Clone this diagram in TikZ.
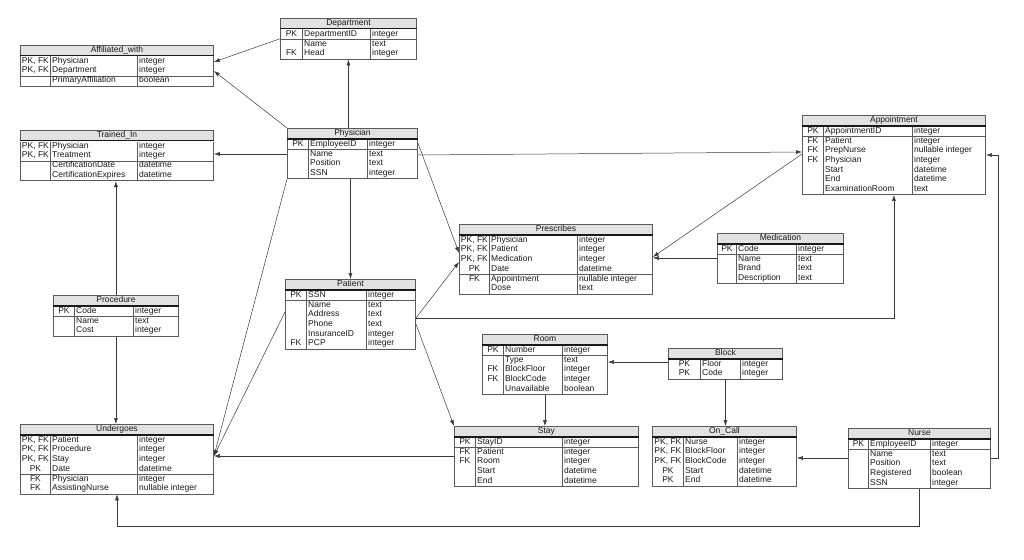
\documentclass[tikz,border=0pt]{standalone}
\usepackage{fontspec}
\setmainfont{Liberation Sans}
\usepackage[table]{xcolor}
\usepackage{array}
\usetikzlibrary{arrows, arrows.meta}
\usetikzlibrary{calc}

\definecolor{erline}{HTML}{5A5A5A}
\definecolor{erhead}{HTML}{E2E2E2}
\definecolor{erwire}{HTML}{3A3A3A}
\setlength{\tabcolsep}{1.5pt}
\setlength{\arrayrulewidth}{0.5pt}
\arrayrulecolor{erline}
\newcolumntype{K}[1]{>{\hbox to #1\bgroup\hss}c<{\hss\egroup}}
\newcolumntype{L}[1]{>{\hbox to #1\bgroup}l<{\hss\egroup}}
\newcommand{\erhdr}[1]{\hline\multicolumn{3}{|c|}{\cellcolor{erhead}#1}\\\noalign{\hrule height 1.2pt}}

\begin{document}
\begin{tikzpicture}[x=1pt, y=-1pt,
    ertable/.style={inner sep=0pt, anchor=north west, font=\fontsize{8.5}{9.6}\selectfont, text=black!90},
    fk/.style={draw=erwire, line width=0.5pt, -{Latex[length=6pt,width=4pt]}}]
    \path[use as bounding box, fill=white] (0,0) rectangle (1024,559);

    \node[ertable] (affiliated) at (20,45) {\begin{tabular}{|K{26.5pt}|L{83.5pt}|L{72.5pt}|}
        \erhdr{Affiliated\_with}
        PK, FK & Physician & integer \\
        PK, FK & Department & integer \\ \hline
        & PrimaryAffiliation & boolean \\ \hline
    \end{tabular}};
    \node[ertable] (department) at (280,18) {\begin{tabular}{|K{18.5pt}|L{64.5pt}|L{42.5pt}|}
        \erhdr{Department}
        PK & DepartmentID & integer \\ \hline
        & Name & text \\
        FK & Head & integer \\ \hline
    \end{tabular}};
    \node[ertable] (trained) at (20,130) {\begin{tabular}{|K{26.5pt}|L{83.5pt}|L{72.5pt}|}
        \erhdr{Trained\_In}
        PK, FK & Physician & integer \\
        PK, FK & Treatment & integer \\ \hline
        & CertificationDate & datetime \\
        & CertificationExpires & datetime \\ \hline
    \end{tabular}};
    \node[ertable] (physician) at (287,128) {\begin{tabular}{|K{17.5pt}|L{55.5pt}|L{46.5pt}|}
        \erhdr{Physician}
        PK & EmployeeID & integer \\ \hline
        & Name & text \\
        & Position & text \\
        & SSN & integer \\ \hline
    \end{tabular}};
    \node[ertable] (appointment) at (802,115) {\begin{tabular}{|K{17.5pt}|L{85.5pt}|L{69.5pt}|}
        \erhdr{Appointment}
        PK & AppointmentID & integer \\ \hline
        FK & Patient & integer \\
        FK & PrepNurse & nullable integer \\
        FK & Physician & integer \\
        & Start & datetime \\
        & End & datetime \\
        & ExaminationRoom & text \\ \hline
    \end{tabular}};
    \node[ertable] (prescribes) at (459,224) {\begin{tabular}{|K{26.5pt}|L{84.5pt}|L{71.5pt}|}
        \erhdr{Prescribes}
        PK, FK & Physician & integer \\
        PK, FK & Patient & integer \\
        PK, FK & Medication & integer \\
        PK & Date & datetime \\ \hline
        FK & Appointment & nullable integer \\
        & Dose & text \\ \hline
    \end{tabular}};
    \node[ertable] (medication) at (717,233) {\begin{tabular}{|K{15.5pt}|L{56.5pt}|L{43.5pt}|}
        \erhdr{Medication}
        PK & Code & integer \\ \hline
        & Name & text \\
        & Brand & text \\
        & Description & text \\ \hline
    \end{tabular}};
    \node[ertable] (procedure) at (53,295) {\begin{tabular}{|K{17.5pt}|L{55.5pt}|L{41.5pt}|}
        \erhdr{Procedure}
        PK & Code & integer \\ \hline
        & Name & text \\
        & Cost & integer \\ \hline
    \end{tabular}};
    \node[ertable] (patient) at (285,279) {\begin{tabular}{|K{17.5pt}|L{56.5pt}|L{45.5pt}|}
        \erhdr{Patient}
        PK & SSN & integer \\ \hline
        & Name & text \\
        & Address & text \\
        & Phone & text \\
        & InsuranceID & integer \\
        FK & PCP & integer \\ \hline
    \end{tabular}};
    \node[ertable] (room) at (482,334) {\begin{tabular}{|K{17.5pt}|L{55.5pt}|L{41.5pt}|}
        \erhdr{Room}
        PK & Number & integer \\ \hline
        & Type & text \\
        FK & BlockFloor & integer \\
        FK & BlockCode & integer \\
        & Unavailable & boolean \\ \hline
    \end{tabular}};
    \node[ertable] (block) at (668,348) {\begin{tabular}{|K{28.5pt}|L{36.5pt}|L{38.5pt}|}
        \erhdr{Block}
        PK & Floor & integer \\
        PK & Code & integer \\ \hline
    \end{tabular}};
    \node[ertable] (undergoes) at (20,424) {\begin{tabular}{|K{26.5pt}|L{83.5pt}|L{72.5pt}|}
        \erhdr{Undergoes}
        PK, FK & Patient & integer \\
        PK, FK & Procedure & integer \\
        PK, FK & Stay & integer \\
        PK & Date & datetime \\ \hline
        FK & Physician & integer \\
        FK & AssistingNurse & nullable integer \\ \hline
    \end{tabular}};
    \node[ertable] (stay) at (454,426) {\begin{tabular}{|K{17.5pt}|L{83.5pt}|L{72.5pt}|}
        \erhdr{Stay}
        PK & StayID & integer \\ \hline
        FK & Patient & integer \\
        FK & Room & integer \\
        & Start & datetime \\
        & End & datetime \\ \hline
    \end{tabular}};
    \node[ertable] (oncall) at (652,426) {\begin{tabular}{|K{27.5pt}|L{50.5pt}|L{55.5pt}|}
        \erhdr{On\_Call}
        PK, FK & Nurse & integer \\
        PK, FK & BlockFloor & integer \\
        PK, FK & BlockCode & integer \\
        PK & Start & datetime \\
        PK & End & datetime \\ \hline
    \end{tabular}};
    \node[ertable] (nurse) at (848,428) {\begin{tabular}{|K{16.5pt}|L{58.5pt}|L{56.5pt}|}
        \erhdr{Nurse}
        PK & EmployeeID & integer \\ \hline
        & Name & text \\
        & Position & text \\
        & Registered & boolean \\
        & SSN & integer \\ \hline
    \end{tabular}};

    \draw[fk] (department.west) -- (affiliated.east |- 0,62);
    \draw[fk] (physician.north west) -- (affiliated.east |- 0,71);
    \draw[fk] (department.south |- physician.north) -- (department.south);
    \draw[fk] (physician.west |- 0,154) -- (trained.east |- 0,154);
    \draw[fk] (procedure.north) -- (procedure.north |- trained.south);
    \draw[fk] (procedure.south) -- (procedure.south |- undergoes.north);
    \draw[fk] (patient.north |- physician.south) -- (patient.north);
    \draw[fk] (physician.south west) -- (undergoes.east |- 0,456);
    \draw[fk] (patient.west |- 0,312) -- (undergoes.east |- 0,456);
    \draw[fk] (stay.west |- 0,456) -- (undergoes.east |- 0,456);
    \draw[fk] (nurse.south) -- ++(0,38) -| (undergoes.south);
    \draw[fk] (physician.east |- 0,143) -- (prescribes.west |- 0,253);
    \draw[fk] (patient.east |- 0,318) -- (prescribes.west |- 0,262);
    \draw[fk] (patient.east |- 0,318) -| (appointment.south);
    \draw[fk] (physician.east |- 0,155) -- (appointment.west |- 0,152);
    \draw[fk] (appointment.west |- 0,154) -- (prescribes.east |- 0,257);
    \draw[fk] (medication.west |- 0,258) -- (prescribes.east |- 0,258);
    \draw[fk] (patient.east |- 0,324) -- (stay.north west);
    \draw[fk] (room.south) -- (room.south |- stay.north);
    \draw[fk] (block.west |- 0,362) -- (room.east |- 0,362);
    \draw[fk] (block.south) -- (block.south |- oncall.north);
    \draw[fk] (nurse.west |- 0,458) -- (oncall.east |- 0,458);
    \draw[fk] (nurse.east) -- ++(7,0) |- (appointment.east |- 0,155);
\end{tikzpicture}
\end{document}
